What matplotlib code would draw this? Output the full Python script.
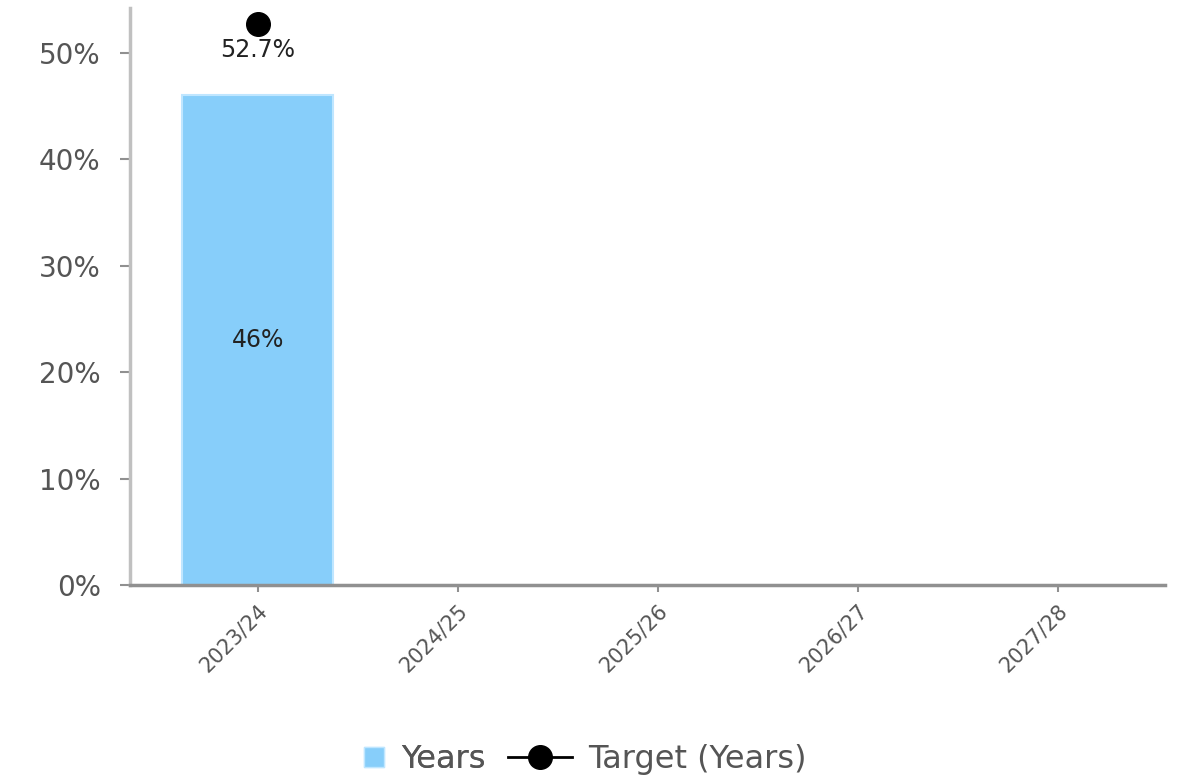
import numpy as np
import matplotlib
matplotlib.use("Agg")
import matplotlib.pyplot as plt
from matplotlib.lines import Line2D
from matplotlib.ticker import FuncFormatter

categories = ["2023/24", "2024/25", "2025/26", "2026/27", "2027/28"]
years = [46, np.nan, np.nan, np.nan, np.nan]
target = [52.7, np.nan, np.nan, np.nan, np.nan]


def main():
    fig = plt.figure(figsize=(11.8, 7.78), dpi=100)
    ax = fig.add_axes([0.110, 0.248, 0.877, 0.742])
    x = np.arange(len(categories))

    ax.bar(x, years, width=0.755, color="#87cefa", edgecolor="#bfe6ff", linewidth=1.5,
           label="Years", zorder=2)
    line, = ax.plot(x, target, color="black", marker="o", markersize=17, linewidth=2,
                    label="Target (Years)", zorder=3)

    for xi, v in zip(x, years):
        if not np.isnan(v):
            ax.text(xi, v / 2, f"{v:g}%", ha="center", va="center", fontsize=17, color="#222222")
    for xi, v in zip(x, target):
        if not np.isnan(v):
            ax.text(xi, v - 1.3, f"{v:g}%", ha="center", va="top", fontsize=17, color="#222222")

    ax.set_xlim(-0.64, 4.535)
    ax.set_ylim(0, 54.2)
    ax.set_yticks(np.arange(0, 51, 10))
    ax.yaxis.set_major_formatter(FuncFormatter(lambda v, p: f"{v:.0f}%"))
    ax.set_xticks(x)
    ax.set_xticklabels(categories, rotation=45, ha="right", rotation_mode="anchor")

    for s in ["top", "right"]:
        ax.spines[s].set_visible(False)
    ax.spines["left"].set_color("#c0c0c0")
    ax.spines["left"].set_linewidth(2.5)
    ax.spines["bottom"].set_color("#909090")
    ax.spines["bottom"].set_linewidth(2.5)
    ax.tick_params(axis="y", labelsize=20, labelcolor="#555555", color="#909090",
                   length=7, width=1.5, pad=14)
    ax.tick_params(axis="x", labelsize=15, labelcolor="#555555", color="#909090",
                   length=5, width=1.5, pad=6)

    # two legends so each entry gets its own handle width (square swatch vs line+dot)
    years_handle = Line2D([], [], linestyle="none", marker="s", markersize=14,
                          markerfacecolor="#87cefa", markeredgecolor="#bfe6ff")
    leg1 = fig.legend([years_handle], ["Years"], loc="center right",
                      bbox_to_anchor=(486 / 1180, 0.024), frameon=False, fontsize=23,
                      labelcolor="#555555", handlelength=0.9, handletextpad=0.4,
                      borderpad=0, borderaxespad=0)
    fig.add_artist(leg1)
    fig.legend([line], ["Target (Years)"], loc="center left",
               bbox_to_anchor=(508 / 1180, 0.024), frameon=False, fontsize=23,
               labelcolor="#555555", handlelength=2.0, handletextpad=0.5,
               borderpad=0, borderaxespad=0)

    fig.savefig("out.png", dpi=100)


if __name__ == '__main__':
    main()
